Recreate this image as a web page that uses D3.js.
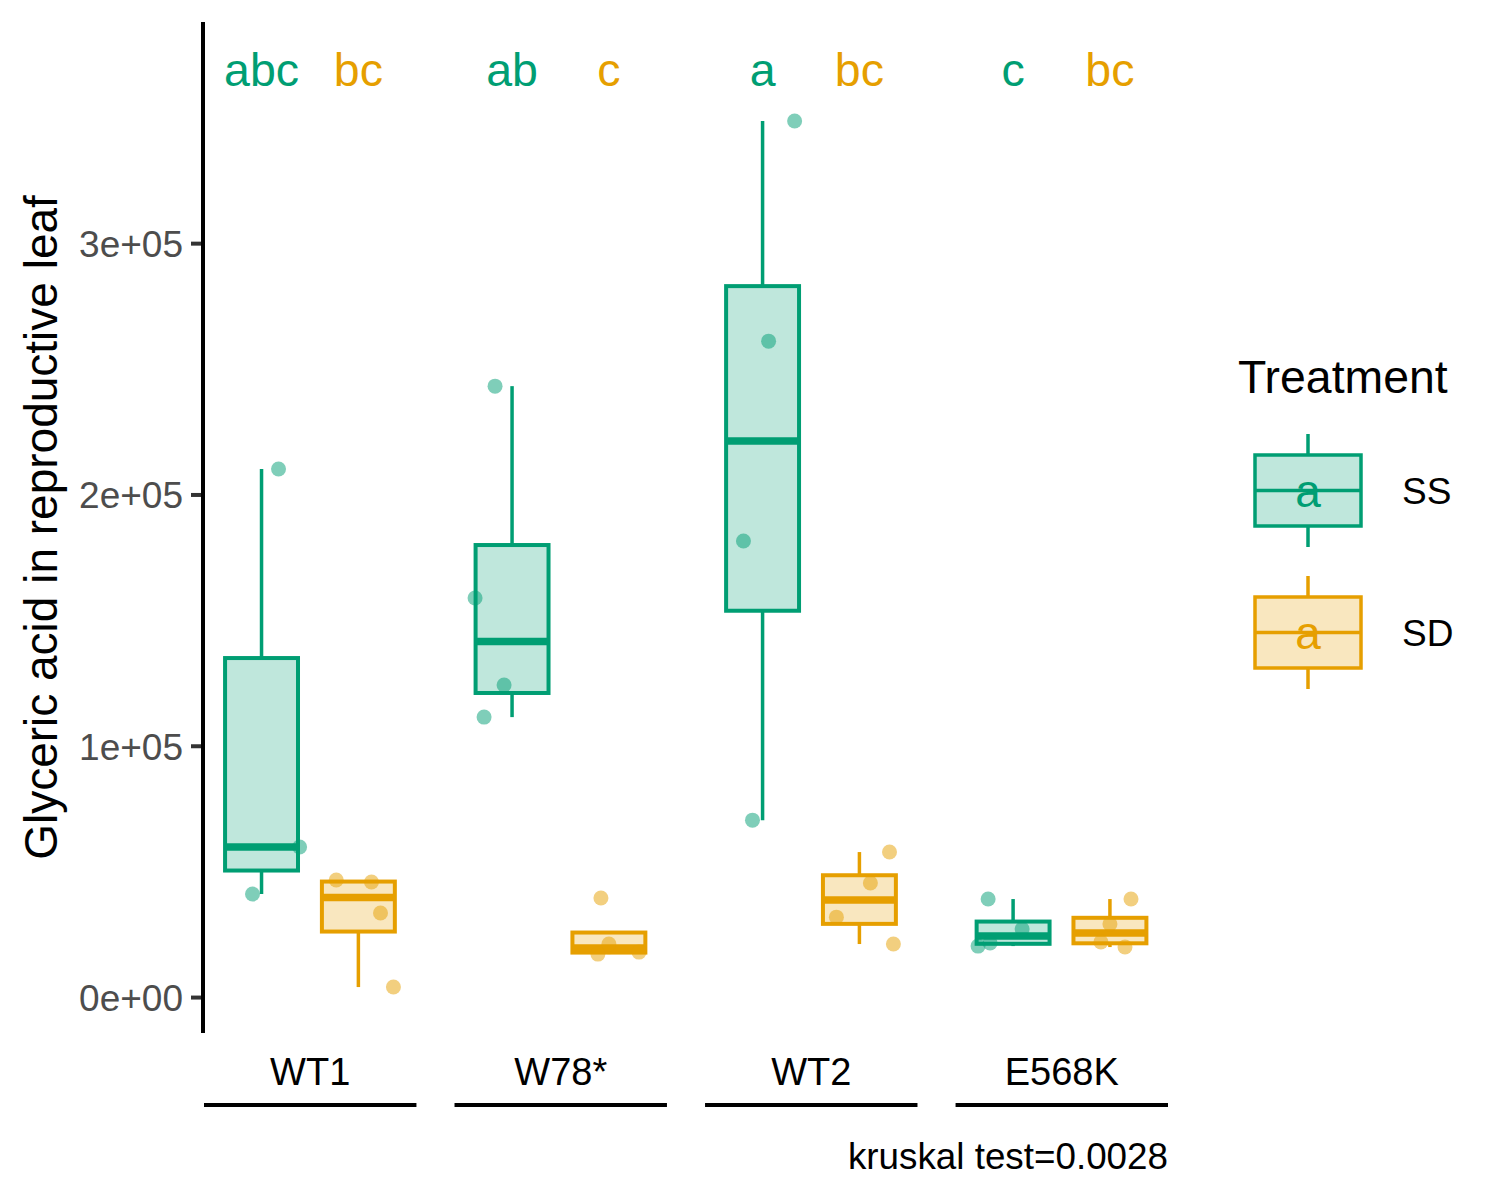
<!DOCTYPE html>
<html><head><meta charset="utf-8">
<script src="https://cdn.jsdelivr.net/npm/d3@7"></script>
<style>body{margin:0;background:#fff;} svg{font-family:"Liberation Sans",Arial,sans-serif;}</style>
</head><body>
<svg id="chart" width="1500" height="1200"></svg>
<script>
// ---- data ----
const genotypes = ["WT1", "W78*", "WT2", "E568K"];
const treatments = ["SS", "SD"];
const colors = ["#009E73", "#E69F00"];
const yTicks = [0, 100000, 200000, 300000];
// raw values per genotype (index) for each treatment
const valuesSS = [
  [210100, 59700, 41000],
  [243100, 158800, 124200, 111400],
  [348600, 261000, 181500, 70400],
  [39000, 27060, 21490, 20290]
];
const valuesSD = [
  [46560, 45760, 33430, 3980],
  [39400, 21100, 17900, 17100],
  [57700, 45400, 31800, 21100],
  [39000, 29050, 21890, 19900]
];
// horizontal jitter (x units) of each point, same order as values
const jitterSS = [
  [0.096, 0.215, -0.051],
  [-0.096, -0.209, -0.045, -0.158],
  [0.181, 0.034, -0.108, -0.057],
  [-0.141, 0.051, -0.130, -0.198]
];
const jitterSD = [
  [-0.125, 0.074, 0.125, 0.198],
  [-0.045, 0.000, 0.170, -0.062],
  [0.170, 0.062, -0.130, 0.192],
  [0.119, 0.000, -0.051, 0.085]
];
const lettersSS = ["abc", "ab", "a", "c"];
const lettersSD = ["bc", "c", "bc", "bc"];
const yTitle = "Glyceric acid in reproductive leaf";
const caption = "kruskal test=0.0028";
const legendTitle = "Treatment";

// ---- layout ----
const svg = d3.select("#chart");
const panelLeft = 204, panelRight = 1168, panelTop = 22, panelBottom = 1033;
const y = d3.scaleLinear().domain([-14300, 388000]).range([panelBottom, panelTop]);
const fx = d3.scaleBand().domain(genotypes).range([panelLeft, panelRight]).paddingInner(0.152).paddingOuter(0);
const bw = fx.bandwidth();
const xin = d3.scaleLinear().domain([0.4, 1.6]).range([0, bw]);
const dodge = {SS: 0.725, SD: 1.272};
const boxHalf = 0.206;

function stats(vals) {
  const s = vals.slice().sort(d3.ascending);
  const q1 = d3.quantile(s, 0.25), med = d3.quantile(s, 0.5), q3 = d3.quantile(s, 0.75);
  const iqr = q3 - q1;
  const lo = d3.min(s.filter(v => v >= q1 - 1.5 * iqr));
  const hi = d3.max(s.filter(v => v <= q3 + 1.5 * iqr));
  return {q1, med, q3, lo, hi};
}

const sets = [
  {t: "SS", vals: valuesSS, jit: jitterSS, letters: lettersSS, color: colors[0]},
  {t: "SD", vals: valuesSD, jit: jitterSD, letters: lettersSD, color: colors[1]}
];

const plot = svg.append("g");
genotypes.forEach((g, gi) => {
  const gx = fx(g);
  sets.forEach(set => {
    const cx = gx + xin(dodge[set.t]);
    const half = xin(1 + boxHalf) - xin(1);
    const st = stats(set.vals[gi]);
    const grp = plot.append("g");
    // whiskers
    grp.append("line").attr("x1", cx).attr("x2", cx).attr("y1", y(st.q3)).attr("y2", y(Math.max(st.hi, st.q3)))
      .attr("stroke", set.color).attr("stroke-width", 3.5);
    grp.append("line").attr("x1", cx).attr("x2", cx).attr("y1", y(st.q1)).attr("y2", y(Math.min(st.lo, st.q1)))
      .attr("stroke", set.color).attr("stroke-width", 3.5);
    // box
    grp.append("rect").attr("x", cx - half).attr("y", y(st.q3)).attr("width", 2 * half)
      .attr("height", y(st.q1) - y(st.q3))
      .attr("fill", set.color).attr("fill-opacity", 0.25)
      .attr("stroke", set.color).attr("stroke-width", 4);
    // median
    grp.append("line").attr("x1", cx - half).attr("x2", cx + half).attr("y1", y(st.med)).attr("y2", y(st.med))
      .attr("stroke", set.color).attr("stroke-width", 7.5);
    // points
    grp.selectAll("circle").data(set.vals[gi]).join("circle")
      .attr("cx", (d, i) => gx + xin(dodge[set.t] + set.jit[gi][i]))
      .attr("cy", d => y(d))
      .attr("r", 7.5)
      .attr("fill", set.color).attr("fill-opacity", 0.5);
    // letters
    svg.append("text").attr("x", cx).attr("y", 86).attr("text-anchor", "middle")
      .attr("font-size", 46.5).attr("fill", set.color).text(set.letters[gi]);
  });
  // strip label + line
  svg.append("text").attr("x", gx + bw / 2).attr("y", 1085).attr("text-anchor", "middle")
    .attr("font-size", 38).attr("fill", "#000").text(g);
  svg.append("line").attr("x1", gx).attr("x2", gx + bw).attr("y1", 1105).attr("y2", 1105)
    .attr("stroke", "#000").attr("stroke-width", 4);
});

// y axis
const yAxis = d3.axisLeft(y).tickValues(yTicks).tickSize(12).tickPadding(8)
  .tickFormat(d => { const [m, e] = d.toExponential(0).split("e"); const sign = e[0]; const n = e.slice(1).padStart(2, "0"); return m + "e" + sign + n; });
const ya = svg.append("g").attr("transform", `translate(${panelLeft - 1},0)`).call(yAxis);
ya.select(".domain").remove();
ya.selectAll(".tick line").attr("stroke", "#333").attr("stroke-width", 4);
ya.selectAll(".tick text").attr("font-size", 37).attr("fill", "#4D4D4D").attr("font-family", "Liberation Sans, Arial, sans-serif").attr("dy", "0.36em");
svg.append("line").attr("x1", panelLeft - 1).attr("x2", panelLeft - 1).attr("y1", panelTop).attr("y2", panelBottom)
  .attr("stroke", "#000").attr("stroke-width", 4);

// y title
svg.append("text").attr("transform", `translate(57,${(panelTop + panelBottom) / 2}) rotate(-90)`)
  .attr("text-anchor", "middle").attr("font-size", 46).attr("fill", "#000").text(yTitle);

// caption
svg.append("text").attr("x", panelRight).attr("y", 1169).attr("text-anchor", "end")
  .attr("font-size", 36.8).attr("fill", "#000").text(caption);

// legend
const lg = svg.append("g");
lg.append("text").attr("x", 1238).attr("y", 393).attr("font-size", 46.4).attr("fill", "#000").text(legendTitle);
const keyTops = [455, 597];
treatments.forEach((t, i) => {
  const c = colors[i];
  const top = keyTops[i], h = 71, x0 = 1255, w = 106, mid = x0 + w / 2;
  lg.append("line").attr("x1", mid).attr("x2", mid).attr("y1", top - 21).attr("y2", top + h + 21)
    .attr("stroke", c).attr("stroke-width", 3.5);
  lg.append("rect").attr("x", x0).attr("y", top).attr("width", w).attr("height", h)
    .attr("fill", "#fff");
  lg.append("rect").attr("x", x0).attr("y", top).attr("width", w).attr("height", h)
    .attr("fill", c).attr("fill-opacity", 0.25).attr("stroke", c).attr("stroke-width", 3.5);
  lg.append("line").attr("x1", x0).attr("x2", x0 + w).attr("y1", top + h / 2).attr("y2", top + h / 2)
    .attr("stroke", c).attr("stroke-width", 3.5);
  lg.append("text").attr("x", mid).attr("y", top + h / 2 + 16).attr("text-anchor", "middle")
    .attr("font-size", 46).attr("fill", c).text("a");
  lg.append("text").attr("x", 1402).attr("y", top + h / 2 + 13).attr("font-size", 37).attr("fill", "#000").text(t);
});
</script>
</body></html>
